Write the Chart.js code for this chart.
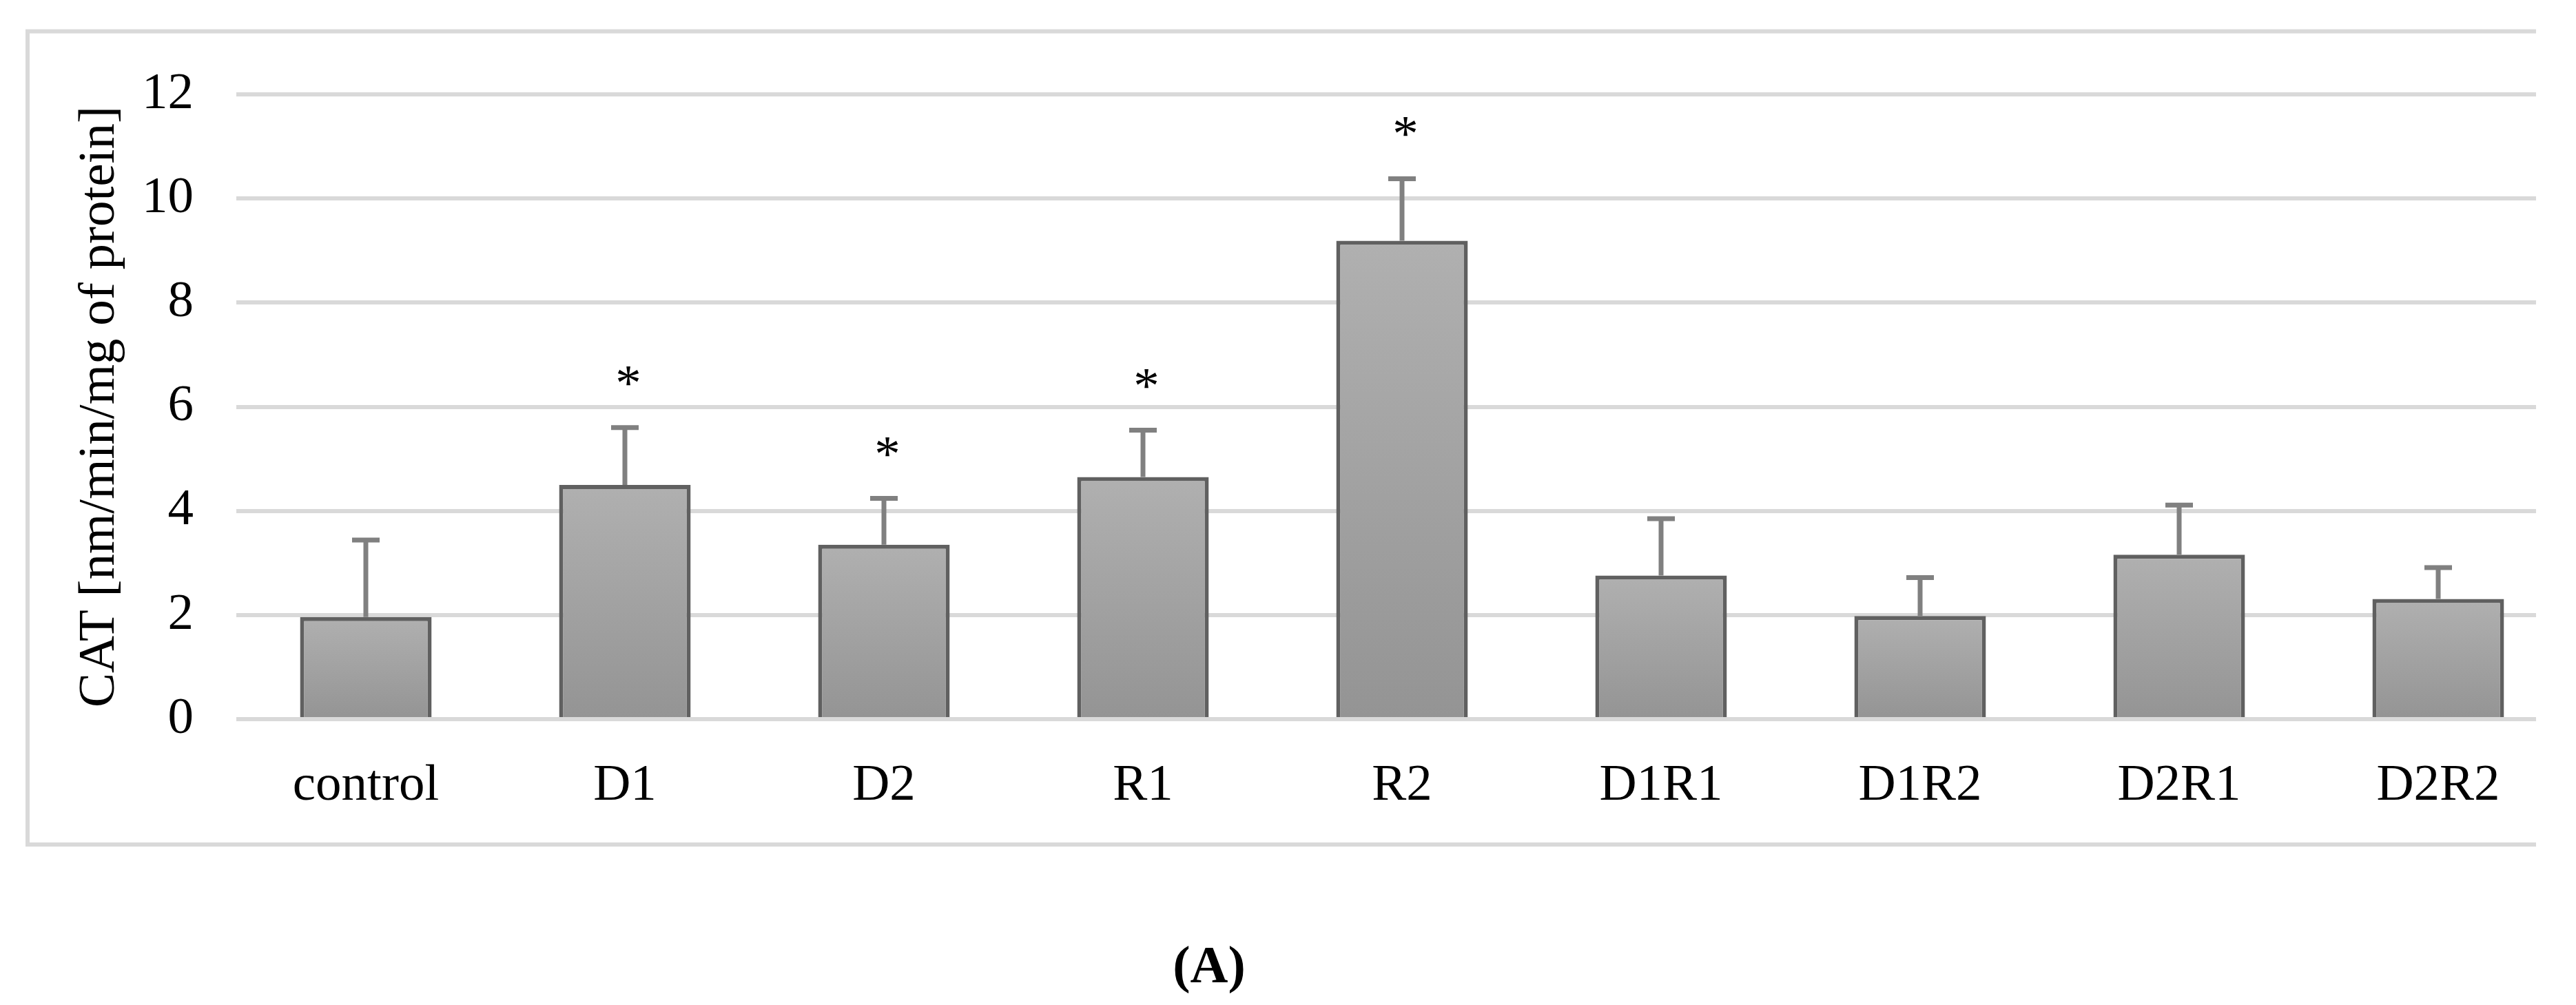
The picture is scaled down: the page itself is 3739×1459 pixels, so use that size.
<!DOCTYPE html>
<html>
<head>
<meta charset="utf-8">
<title>CAT activity</title>
<script src="https://cdn.jsdelivr.net/npm/chart.js@4.4.1/dist/chart.umd.min.js"></script>
<style>
    html, body { margin: 0; padding: 0; background: #ffffff; }
    #page { position: relative; width: 3739px; height: 1459px; overflow: hidden; background: #ffffff; }
    #clip { position: absolute; left: 0; top: 0; width: 3681px; height: 1459px; overflow: hidden; }
    #panel {
        position: absolute; left: 1655px; top: 1362px; width: 200px; text-align: center;
        font-family: 'Liberation Serif', 'Times New Roman', serif; font-weight: bold;
        font-size: 76px; line-height: 76px; color: #000000;
    }
</style>
</head>
<body>
<div id="page">
    <div id="clip"><canvas id="catChart" width="3800" height="1459"></canvas></div>
    <div id="panel">(A)</div>
</div>
<script>
// Data
const groups = ['control', 'D1', 'D2', 'R1', 'R2', 'D1R1', 'D1R2', 'D2R1', 'D2R2'];
const catMeans = [1.96, 4.50, 3.35, 4.65, 9.19, 2.76, 1.98, 3.16, 2.31];
const catSD = [1.48, 1.10, 0.89, 0.90, 1.19, 1.09, 0.74, 0.95, 0.60];
const significance = ['', '*', '*', '*', '*', '', '', '', ''];
const yTicks = [0, 2, 4, 6, 8, 10, 12];

const serif = "'Liberation Serif', 'Times New Roman', serif";

const colors = {
    grid: '#d9d9d9',
    barTop: '#b0b0b0',
    barBottom: '#949494',
    barBorder: '#606060',
    errorBar: '#808080',
    text: '#000000'
};

// Outer frame (right side is cut off like in the figure)
const framePlugin = {
    id: 'frame',
    beforeDraw(chart) {
        const c = chart.ctx;
        c.save();
        c.strokeStyle = colors.grid;
        c.lineWidth = 6;
        c.strokeRect(40, 45.5, 4000, 1180.5);
        c.restore();
    }
};

// Upper error bars and significance stars
const errorBarPlugin = {
    id: 'errorBars',
    afterDatasetsDraw(chart) {
        const c = chart.ctx;
        const meta = chart.getDatasetMeta(0);
        const y = chart.scales.y;
        c.save();
        meta.data.forEach((bar, i) => {
            const top = y.getPixelForValue(catMeans[i]);
            const errTop = y.getPixelForValue(catMeans[i] + catSD[i]);
            c.strokeStyle = colors.errorBar;
            c.lineWidth = 7;
            c.beginPath();
            c.moveTo(bar.x, top);
            c.lineTo(bar.x, errTop);
            c.moveTo(bar.x - 20, errTop);
            c.lineTo(bar.x + 20, errTop);
            c.stroke();
            if (significance[i]) {
                c.fillStyle = colors.text;
                c.font = '75px ' + serif;
                c.textAlign = 'center';
                c.textBaseline = 'alphabetic';
                c.fillText(significance[i], bar.x + 5, errTop - 75 + 35);
            }
        });
        c.restore();
    }
};

function barGradient(context) {
    const chart = context.chart;
    if (!chart.chartArea) return colors.barTop;
    const y = chart.scales.y;
    const i = context.dataIndex;
    const top = y.getPixelForValue(catMeans[i]);
    const bottom = y.getPixelForValue(0);
    const g = chart.ctx.createLinearGradient(0, top, 0, bottom);
    g.addColorStop(0, colors.barTop);
    g.addColorStop(1, colors.barBottom);
    return g;
}

const ctx = document.getElementById('catChart');
new Chart(ctx, {
    type: 'bar',
    data: {
        labels: groups,
        datasets: [{
            label: 'CAT',
            data: catMeans,
            backgroundColor: barGradient,
            borderColor: colors.barBorder,
            borderWidth: 6,
            borderSkipped: 'start',
            categoryPercentage: 1.0,
            barPercentage: 0.508
        }]
    },
    options: {
        responsive: false,
        devicePixelRatio: 1,
        animation: false,
        layout: {
            padding: { left: 100, right: 73, top: 137, bottom: 0 }
        },
        plugins: {
            legend: { display: false },
            tooltip: { enabled: false }
        },
        scales: {
            x: {
                grid: { display: false },
                border: { display: false },
                ticks: {
                    color: colors.text,
                    padding: 44,
                    font: { family: serif, size: 75 }
                },
                afterFit(scale) { scale.height = 1459 - 1044; }
            },
            y: {
                min: 0,
                max: 12,
                afterBuildTicks(scale) {
                    scale.ticks = yTicks.map(v => ({ value: v }));
                },
                grid: { color: colors.grid, lineWidth: 6, drawTicks: false },
                border: { display: false },
                ticks: {
                    color: colors.text,
                    padding: 62,
                    font: { family: serif, size: 75 }
                },
                title: {
                    display: true,
                    text: 'CAT [nm/min/mg of protein]',
                    color: colors.text,
                    padding: 0,
                    font: { family: serif, size: 75, lineHeight: 1.2 }
                },
                afterFit(scale) { scale.width = 243; }
            }
        }
    },
    plugins: [framePlugin, errorBarPlugin]
});
</script>
</body>
</html>
